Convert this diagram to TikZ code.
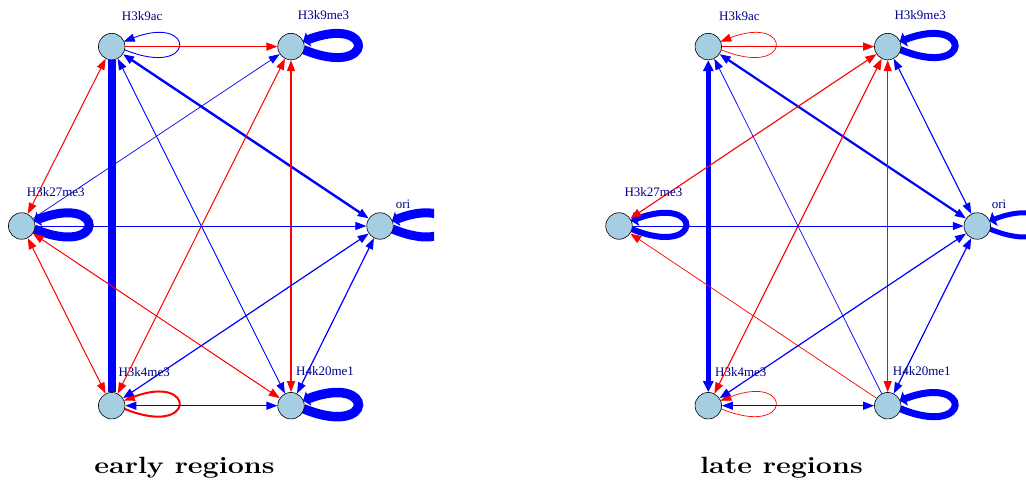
\documentclass[tikz,border=0pt]{standalone}
\usepackage{fontspec}
\usepackage{graphicx}
\usetikzlibrary{arrows.meta,backgrounds}
\newfontfamily\labfont{Liberation Serif}
\definecolor{vfill}{RGB}{166,206,227}
\definecolor{vlab}{RGB}{0,0,139}
\definecolor{ered}{RGB}{255,0,0}
\definecolor{eblue}{RGB}{0,0,255}

% self-loop drawn to the right of a vertex
\newcommand\vloop[2]{%
  \draw[#2] ([shift={(12.5,3)}]#1.center)
    .. controls ([shift={(85,33)}]#1.center) and ([shift={(85,-33)}]#1.center)
    .. ([shift={(12,-5)}]#1.center);}

\tikzset{
  vert/.style={circle,draw=black,line width=0.6pt,fill=vfill,minimum size=26.5pt,inner sep=0pt},
  vlabel/.style={anchor=base west,inner sep=0pt,text=vlab,font=\labfont\fontsize{13}{15}\selectfont},
  captext/.style={anchor=base,inner sep=0pt,font=\fontsize{23.5}{28}\selectfont\bfseries},
  hd/.tip={Triangle[length=11pt,width=8pt]},
  hdthick/.tip={Triangle[length=6pt,width=15pt]},
  rd/.style={color=ered,line width=#1},
  bl/.style={color=eblue,line width=#1},
  one/.style={-{hd}},
  two/.style={{hd}-{hd}},
  fat/.style={-{hdthick}},
}

\begin{document}
\begin{tikzpicture}[x=1pt,y=-1pt]
\useasboundingbox (0,0) rectangle (1026,484);

% ---------------- early regions ----------------
\node[vert] (eAc)  at (111.7,46.6) {};
\node[vert] (eMe9) at (291,46.6) {};
\node[vert] (eK27) at (21.7,226) {};
\node[vert] (eOri) at (380,226) {};
\node[vert] (eK4)  at (111.7,405.7) {};
\node[vert] (eK20) at (291,405.7) {};

\node[vlabel] (eAcL)  at (121.7,20.7) {H3k9ac};
\node[vlabel] (eMe9L) at (297.7,19.8) {H3k9me3};
\node[vlabel] (eK27L) at (26.7,196.5) {H3k27me3};
\node[vlabel] (eOriL) at (395.7,208) {ori};
\node[vlabel] (eK4L)  at (118.3,376.7) {H3k4me3};
\node[vlabel] (eK20L) at (296,375.7) {H4k20me1};

\begin{pgfonlayer}{background}
\begin{scope}
\clip (0,0) rectangle (434,484);
\vloop{eAc}{bl=0.9,one}
\vloop{eMe9}{bl=9,fat}
\vloop{eK27}{bl=9,fat}
\vloop{eOri}{bl=9,fat}
\vloop{eK4}{rd=2,one}
\vloop{eK20}{bl=9.5,fat}
\draw[rd=1.1,one] (eAc) -- (eMe9);
\draw[bl=8] (eAc) -- (eK4);
\draw[bl=2.4,two] (eAc) -- (eOri);
\draw[bl=0.9,two] (eAc) -- (eK20);
\draw[rd=1,two] (eAc) -- (eK27);
\draw[bl=0.7,one] (eK27) -- (eMe9);
\draw[rd=1,two] (eK4) -- (eMe9);
\draw[rd=1.2,two] (eMe9) -- (eK20);
\draw[bl=1,one] (eK27) -- (eOri);
\draw[rd=1,two] (eK27) -- (eK4);
\draw[rd=1,two] (eK27) -- (eK20);
\draw[bl=1.2,two] (eK4) -- (eOri);
\draw[bl=1.2,two] (eK20) -- (eOri);
\draw[bl=1.1,two] (eK4) -- (eK20);
\end{scope}
\end{pgfonlayer}

\node[captext] (eCap) at (184.5,473) {\scalebox{1.22}[1]{early regions}};

% ---------------- late regions ----------------
\node[vert] (lAc)  at (708.3,46.6) {};
\node[vert] (lMe9) at (887.7,46.6) {};
\node[vert] (lK27) at (619,226) {};
\node[vert] (lOri) at (977.3,226) {};
\node[vert] (lK4)  at (708.3,405.7) {};
\node[vert] (lK20) at (887.7,405.7) {};

\node[vlabel] (lAcL)  at (719,20.7) {H3k9ac};
\node[vlabel] (lMe9L) at (894.3,19.8) {H3k9me3};
\node[vlabel] (lK27L) at (624.3,196.7) {H3k27me3};
\node[vlabel] (lOriL) at (991.7,208) {ori};
\node[vlabel] (lK4L)  at (715,376.7) {H3k4me3};
\node[vlabel] (lK20L) at (892.7,375.7) {H4k20me1};

\begin{pgfonlayer}{background}
\begin{scope}
\clip (440,0) rectangle (1026,484);
\vloop{lAc}{rd=0.7,one}
\vloop{lMe9}{bl=7,fat}
\vloop{lK27}{bl=6,fat}
\vloop{lOri}{bl=5,fat}
\vloop{lK4}{rd=0.7,one}
\vloop{lK20}{bl=7,fat}
\draw[rd=1.1,one] (lAc) -- (lMe9);
\draw[bl=4.5,{Triangle[length=11pt,width=10pt]}-{Triangle[length=11pt,width=10pt]}] (lAc) -- (lK4);
\draw[bl=0.7,one] (lK20) -- (lAc);
\draw[bl=2.2,two] (lAc) -- (lOri);
\draw[rd=1.1,two] (lK27) -- (lMe9);
\draw[rd=1.1,two] (lK4) -- (lMe9);
\draw[rd=1,two] (lMe9) -- (lK20);
\draw[bl=1.1,two] (lMe9) -- (lOri);
\draw[bl=0.9,one] (lK27) -- (lOri);
\draw[rd=0.7,one] (lK20) -- (lK27);
\draw[bl=1.2,two] (lK4) -- (lOri);
\draw[bl=1.2,two] (lK20) -- (lOri);
\draw[bl=1.1,two] (lK4) -- (lK20);
\end{scope}
\end{pgfonlayer}

\node[captext] (lCap) at (781.5,473) {\scalebox{1.22}[1]{late regions}};
\end{tikzpicture}
\end{document}
